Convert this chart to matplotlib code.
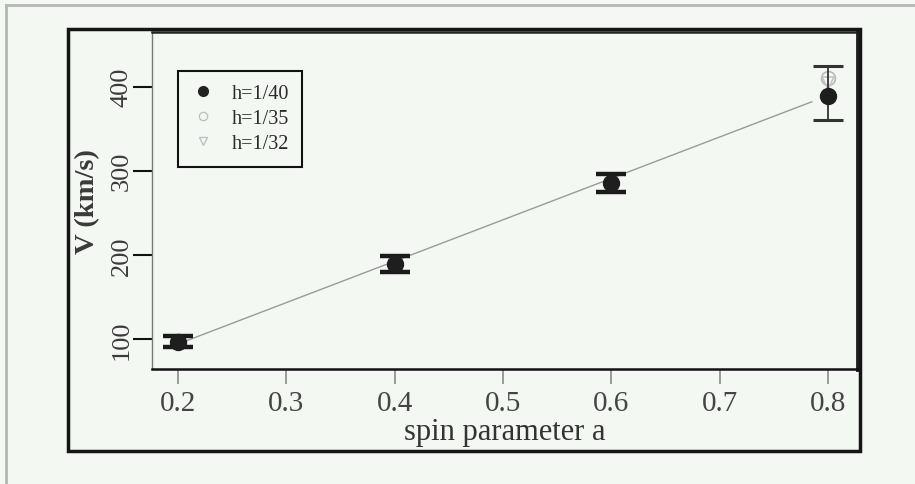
import matplotlib
matplotlib.use("Agg")
import matplotlib.pyplot as plt
from matplotlib.lines import Line2D
from matplotlib.patches import Rectangle

plt.rcParams["font.family"] = ["Liberation Serif", "DejaVu Serif"]

# spin parameter and kick velocity (km/s) for each resolution
spin = [0.2, 0.4, 0.6, 0.8]
v_h40 = [96, 189, 285, 389]
err_lo = [6, 9, 10, 29]
err_hi = [7, 10, 11, 36]
v_h35 = [97, 191, 286, 410]
v_h32 = [95, 189, 284, 404]

# straight-line fit drawn through the points
fit_spin = [0.2, 0.785]
fit_v = [94, 382]

xticks = [0.2, 0.3, 0.4, 0.5, 0.6, 0.7, 0.8]
yticks = [100, 200, 300, 400]

W, H = 915, 485
bg = "#f4f8f3"

fig = plt.figure(figsize=(W / 100, H / 100), dpi=100, facecolor=bg)

# axes box in pixels: left 152, top 33, right 858, bottom 370
ax = fig.add_axes([152 / W, 1 - 370 / H, (858 - 152) / W, (370 - 33) / H])
ax.set_facecolor(bg)

ax.plot(fit_spin, fit_v, "-", color="#9a9a9a", lw=1.0, zorder=1)

ax.plot(spin, v_h35, "o", ms=10, mfc="none", mec="#b8b8b8", mew=1.2, zorder=2)
ax.plot(spin, v_h32, "v", ms=9, mfc="none", mec="#c4c4c4", mew=1.2, zorder=2)
ax.errorbar(spin[:3], v_h40[:3], yerr=[err_lo[:3], err_hi[:3]], fmt="none",
            ecolor="#1a1a1a", elinewidth=2, capsize=10.5, capthick=3.2, zorder=3)
ax.errorbar(spin[3:], v_h40[3:], yerr=[err_lo[3:], err_hi[3:]], fmt="none",
            ecolor="#333333", elinewidth=1.3, capsize=10.5, capthick=2.2, zorder=3)
ax.plot(spin, v_h40, "o", ms=11.5, color="#1e1e1e", zorder=4)

ax.set_xlim(0.176, 0.8277)
ax.set_ylim(64.3, 465)
ax.set_xticks(xticks)
ax.set_xticklabels([f"{t:.1f}" for t in xticks])
ax.set_yticks(yticks)
ax.set_yticklabels([str(t) for t in yticks], rotation=90, va="center")

ax.tick_params(axis="x", direction="out", length=11, width=1.2, color="#8a8a8a",
               pad=4, labelsize=21, labelcolor="#444444")
ax.tick_params(axis="y", direction="out", length=13.5, width=1.5, color="#111111",
               pad=0.5, labelsize=19, labelcolor="#3a3a3a")

for side, lw, col in [("left", 1.0, "#777777"), ("bottom", 1.8, "#111111"),
                      ("top", 1.8, "#222222"), ("right", 3.5, "#222222")]:
    ax.spines[side].set_linewidth(lw)
    ax.spines[side].set_color(col)

ax.set_xlabel("spin parameter a", fontsize=22, color="#333333", va="top")
ax.xaxis.set_label_coords(0.5, -0.142)
ax.set_ylabel("V (km/s)", fontsize=20.5, fontweight="bold", color="#3a3a3a")
ax.yaxis.set_label_coords(-0.074, 0.5)

handles = [
    Line2D([], [], ls="none", marker="o", ms=7, color="#222222"),
    Line2D([], [], ls="none", marker="o", ms=6, mfc="none", mec="#c0c0c0"),
    Line2D([], [], ls="none", marker="v", ms=6, mfc="none", mec="#c0c0c0"),
]
leg = ax.legend(handles, ["h=1/40", "h=1/35", "h=1/32"], loc="upper left",
                bbox_to_anchor=(178 / W, 1 - 72 / H), bbox_transform=fig.transFigure,
                borderaxespad=0, fontsize=14.5, frameon=True, fancybox=False,
                borderpad=0.65, labelspacing=0.3, handlelength=1.2,
                handletextpad=0.8)
leg.get_frame().set_edgecolor("#111111")
leg.get_frame().set_linewidth(1.5)
leg.get_frame().set_facecolor(bg)
leg.get_frame().set_alpha(1)
for t in leg.get_texts():
    t.set_color("#2a2a2a")

# inner black frame and outer light page border
fig.patches.append(Rectangle((68 / W, 1 - 452 / H), (860 - 68) / W, (452 - 30) / H,
                             transform=fig.transFigure, fill=False,
                             edgecolor="#151515", lw=2.5, zorder=0))
fig.lines.append(Line2D([6 / W, 6 / W], [0, 1 - 6 / H], transform=fig.transFigure,
                        color="#b5b5b5", lw=2))
fig.lines.append(Line2D([6 / W, 1], [1 - 6 / H, 1 - 6 / H], transform=fig.transFigure,
                        color="#b5b5b5", lw=2))

fig.savefig("out.png", dpi=100, facecolor=bg)
